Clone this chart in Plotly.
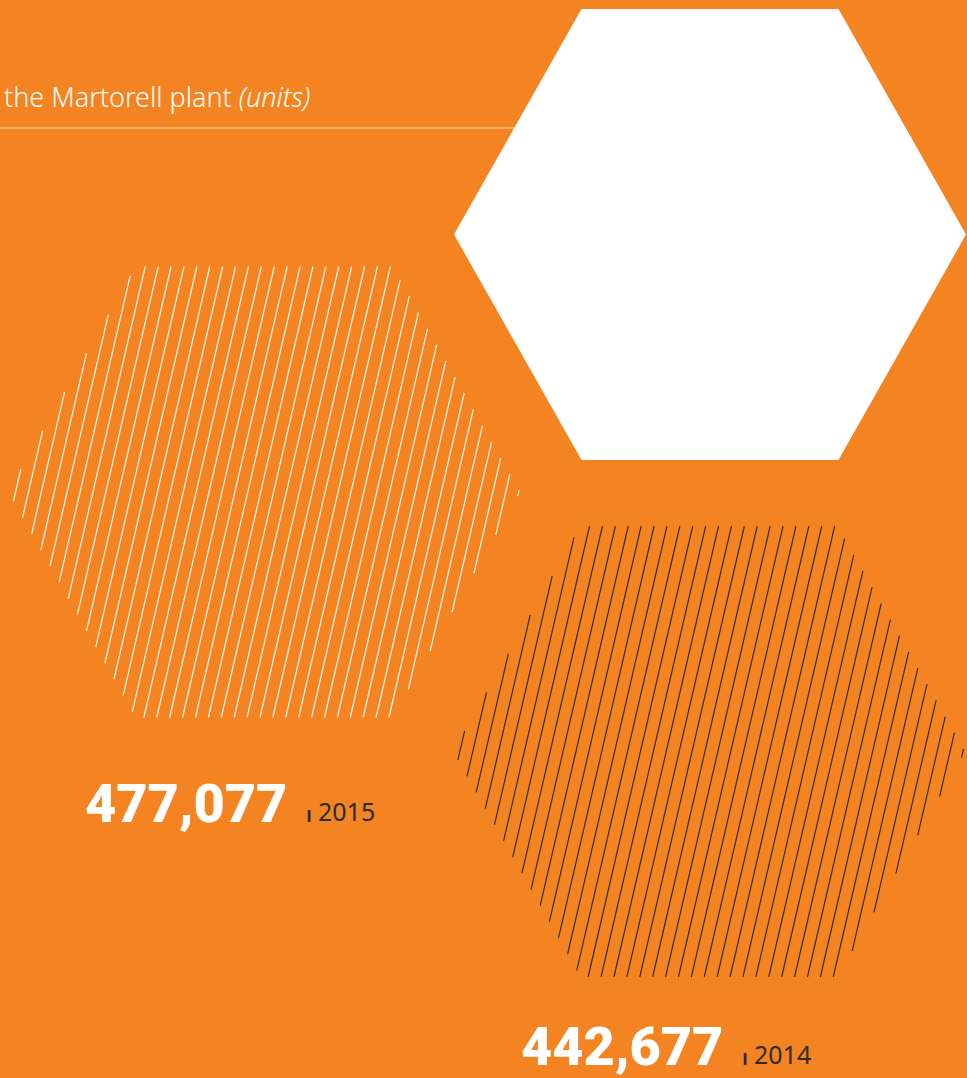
import numpy as np
import plotly.graph_objects as go

# ---- data -------------------------------------------------------------
years = ["2015", "2014"]
values = [477077, 442677]
title_text = "the Martorell plant"
units_text = "(units)"

# ---- style ------------------------------------------------------------
ORANGE = "#F48421"
DARK = "#2B2B2B"
W, H = 967, 1078

hatch_colors = ["#FFFFFF", DARK]
hatch_centers = [(264, 492), (709, 751.5)]
solid_center = (710, 234.5)
HW, TW, HH = 256, 128.5, 225.5      # half width, half top edge, half height
K = 0.232                            # hatch slant (dx per dy)
SPACING = 12.9
PHASES = [0.7, 2.1]


def hexagon(cx, cy):
    return [(cx - TW, cy - HH), (cx + TW, cy - HH), (cx + HW, cy),
            (cx + TW, cy + HH), (cx - TW, cy + HH), (cx - HW, cy)]


def hatch(poly, phase):
    pts = np.array(poly, dtype=float)
    cen = pts.mean(axis=0)
    cvals = pts[:, 0] + K * pts[:, 1]
    n0 = int(np.floor((cvals.min() - phase) / SPACING))
    n1 = int(np.ceil((cvals.max() - phase) / SPACING))
    xs, ys = [], []
    for n in range(n0, n1 + 1):
        c = phase + n * SPACING
        lo, hi = -1e9, 1e9
        ok = True
        for i in range(len(pts)):
            p1, p2 = pts[i], pts[(i + 1) % len(pts)]
            d = p2 - p1
            nrm = np.array([-d[1], d[0]])
            if np.dot(nrm, cen - p1) < 0:
                nrm = -nrm
            a = nrm[1] - K * nrm[0]
            b = nrm[0] * (p1[0] - c) + nrm[1] * p1[1]
            if abs(a) < 1e-12:
                if b > 0:
                    ok = False
            elif a > 0:
                lo = max(lo, b / a)
            else:
                hi = min(hi, b / a)
        if ok and hi - lo > 0.5:
            xs += [c - K * lo, c - K * hi, None]
            ys += [lo, hi, None]
    return xs, ys


fig = go.Figure()

# solid white hexagon
sv = hexagon(*solid_center)
fig.add_trace(go.Scatter(
    x=[p[0] for p in sv] + [sv[0][0]], y=[p[1] for p in sv] + [sv[0][1]],
    fill="toself", fillcolor="#FFFFFF", mode="lines",
    line=dict(color="#FFFFFF", width=0), hoverinfo="skip", showlegend=False))

# hatched hexagons, one per year
for yr, val, col, cen, ph in zip(years, values, hatch_colors, hatch_centers, PHASES):
    xs, ys = hatch(hexagon(*cen), ph)
    fig.add_trace(go.Scatter(
        x=xs, y=ys, mode="lines", line=dict(color=col, width=1.15),
        name=yr, hoverinfo="skip", showlegend=False))

# labels
label_pos = [(83, 803), (519, 1046)]
for yr, val, (lx, ly) in zip(years, values, label_pos):
    fig.add_annotation(
        x=lx, y=ly, xref="x", yref="y", xanchor="left", yanchor="middle",
        text=f"{val:,}", showarrow=False,
        font=dict(family="Roboto", size=54, weight=900, color="#FFFFFF"))
    fig.add_annotation(
        x=lx + 221, y=ly + 11, xref="x", yref="y", xanchor="left", yanchor="middle",
        text="ı", showarrow=False,
        font=dict(family="Noto Sans", size=21, weight=600, color=DARK))
    fig.add_annotation(
        x=lx + 233, y=ly + 8, xref="x", yref="y", xanchor="left", yanchor="middle",
        text=yr, showarrow=False,
        font=dict(family="Noto Sans", size=25, color=DARK))

# title
fig.add_annotation(
    x=2, y=96, xref="x", yref="y", xanchor="left", yanchor="middle",
    text=f"{title_text} <i>{units_text}</i>", showarrow=False,
    font=dict(family="Noto Sans", size=27, weight=300, color="#FFFFFF"))

fig.add_shape(type="line", x0=0, x1=520, y0=128, y1=128, xref="x", yref="y",
              line=dict(color="rgba(255,255,255,0.7)", width=1.2), layer="below")

fig.update_xaxes(range=[0, W], visible=False, fixedrange=True)
fig.update_yaxes(range=[H, 0], visible=False, fixedrange=True)
fig.update_layout(
    width=W, height=H, margin=dict(l=0, r=0, t=0, b=0),
    paper_bgcolor=ORANGE, plot_bgcolor=ORANGE, showlegend=False)

fig.write_html("out.html", config={"displayModeBar": False},
               post_script="document.body.style.margin='0';document.body.style.overflow='hidden';")
